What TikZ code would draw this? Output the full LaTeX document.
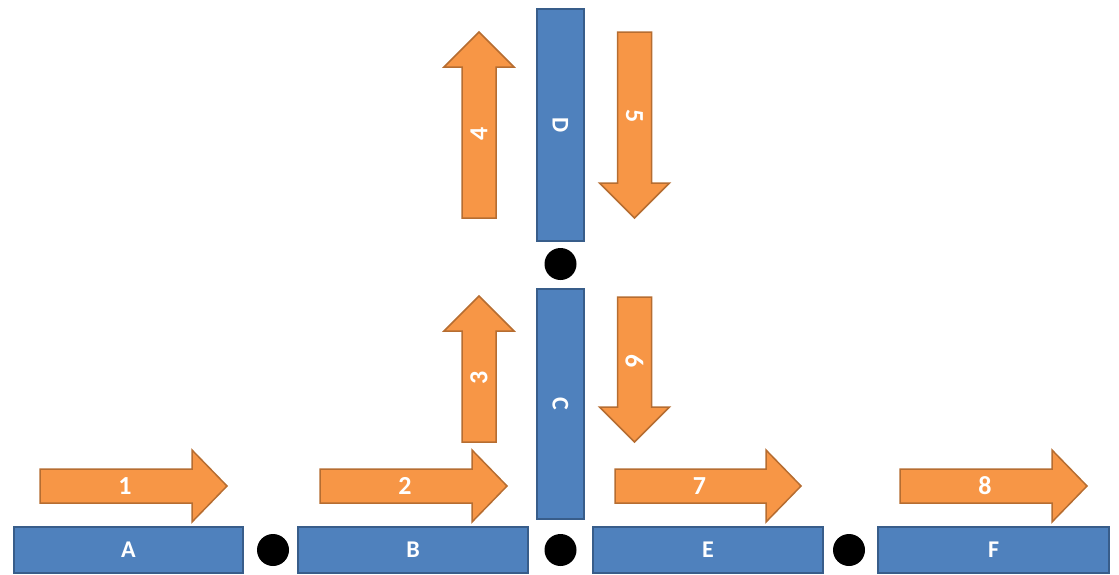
\documentclass[tikz,border=0pt]{standalone}
\usepackage{fontspec}
\setmainfont{Carlito}
\definecolor{boxblue}{HTML}{4F81BD}
\definecolor{boxedge}{HTML}{385D8A}
\definecolor{flowfill}{HTML}{F79646}
\definecolor{flowedge}{HTML}{B66D31}
\tikzset{
  blk/.style={draw=boxedge, fill=boxblue, line width=1.5pt, inner sep=0pt,
    text=white, font=\bfseries\fontsize{24}{24}\selectfont},
  flow/.style={draw=flowedge, fill=flowfill, line width=1.5pt, line join=miter},
  lbl/.style={text=white, inner sep=0pt, font=\bfseries\fontsize{26}{26}\selectfont},
  joint/.style={circle, fill=black, minimum size=32pt, inner sep=0pt},
}
% arrows: name, start, tip, centre line, label
\newcommand\rflow[5]{%
  \draw[flow] (#2,#4-17) -- (#3-35,#4-17) -- (#3-35,#4-36) -- (#3,#4)
    -- (#3-35,#4+36) -- (#3-35,#4+17) -- (#2,#4+17) -- cycle;
  \node[lbl] (#1) at ({(#2+#3-17)/2},#4) {#5};}
\newcommand\uflow[5]{%
  \draw[flow] (#4-17,#2) -- (#4-17,#3+35) -- (#4-35,#3+35) -- (#4,#3)
    -- (#4+35,#3+35) -- (#4+17,#3+35) -- (#4+17,#2) -- cycle;
  \node[lbl, rotate=90] (#1) at (#4,{(#2+#3+17)/2}) {#5};}
\newcommand\dflow[5]{%
  \draw[flow] (#4-17,#2) -- (#4-17,#3-35) -- (#4-35,#3-35) -- (#4,#3)
    -- (#4+35,#3-35) -- (#4+17,#3-35) -- (#4+17,#2) -- cycle;
  \node[lbl, rotate=-90] (#1) at (#4,{(#2+#3-17)/2}) {#5};}
\begin{document}
\begin{tikzpicture}[x=1pt, y=-1pt]
\useasboundingbox (0,0) rectangle (1119,574);
% horizontal members
\node[blk, minimum width=229pt, minimum height=46pt] (A) at (128.5,550) {A};
\node[blk, minimum width=230pt, minimum height=46pt] (B) at (413,550) {B};
\node[blk, minimum width=230pt, minimum height=46pt] (E) at (708,550) {E};
\node[blk, minimum width=231pt, minimum height=46pt] (F) at (993.5,550) {F};
% vertical members
\node[blk, minimum width=47pt, minimum height=230pt] (C) at (560.5,404) {\rotatebox{-90}{C}};
\node[blk, minimum width=47pt, minimum height=232pt] (D) at (560.5,125) {\rotatebox{-90}{D}};
% joints
\node[joint] (jAB) at (273,550) {};
\node[joint] (jBE) at (560.5,550) {};
\node[joint] (jEF) at (849,550) {};
\node[joint] (jCD) at (560.5,264) {};
% flow arrows
\rflow{f1}{40}{227}{486}{1}
\rflow{f2}{320}{507}{486}{2}
\uflow{f3}{442}{296}{479}{3}
\uflow{f4}{218}{32}{479}{4}
\dflow{f5}{32}{218}{634.5}{5}
\dflow{f6}{297}{442}{634.5}{6}
\rflow{f7}{615}{801}{486}{7}
\rflow{f8}{900}{1087}{486}{8}
\end{tikzpicture}
\end{document}
